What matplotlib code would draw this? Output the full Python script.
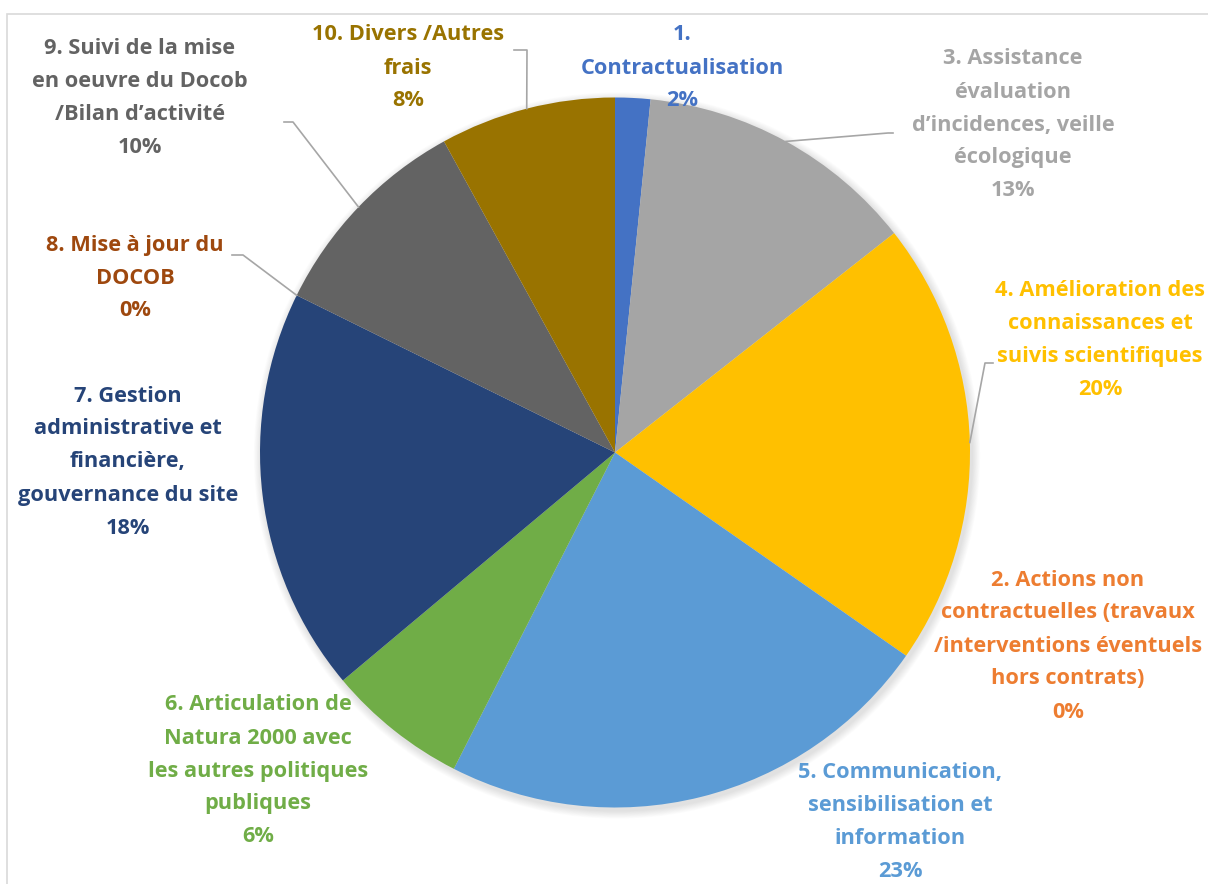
import numpy as np
import matplotlib
matplotlib.use("Agg")
import matplotlib.pyplot as plt
from matplotlib.patches import Rectangle, Circle

# slices in drawing order (clockwise from 12 o'clock)
labels = [
    "1.\nContractualisation",
    "3. Assistance\névaluation\nd\u2019incidences, veille\nécologique",
    "4. Amélioration des\nconnaissances et\nsuivis scientifiques",
    "2. Actions non\ncontractuelles (travaux\n/interventions éventuels\nhors contrats)",
    "5. Communication,\nsensibilisation et\ninformation",
    "6. Articulation de\nNatura 2000 avec\nles autres politiques\npubliques",
    "7. Gestion\nadministrative et\nfinancière,\ngouvernance du site",
    "8. Mise à jour du\nDOCOB",
    "9. Suivi de la mise\nen oeuvre du Docob\n/Bilan d\u2019activité",
    "10. Divers /Autres\nfrais",
]
shares = [1.6, 12.8, 20.3, 0.0, 22.8, 6.4, 18.4, 0.0, 9.7, 8.0]
colors = ["#4472C4", "#A5A5A5", "#FFC000", "#ED7D31", "#5B9BD5",
          "#70AD47", "#264478", "#9E480E", "#636363", "#997300"]

W, H = 1208, 884
cx, cy, r = 615, H - 452.5, 355

# label block centres (pixels, y from top) and leader lines
label_pos = [(682, 68), (1013, 125), (1100, 340), (1068, 646), (900, 822),
             (258, 771), (128, 462), (135, 278), (140, 98), (408, 68)]
leaders = {1: [(893, 133), (888, 133)],
           2: [(993, 363), (985, 363)],
           7: [(232, 255), (243, 255)],
           8: [(284, 122), (293, 122)],
           9: [(514, 50), (527, 50)]}

plt.rcParams["font.family"] = ["Open Sans", "DejaVu Sans"]

fig = plt.figure(figsize=(W / 100, H / 100), dpi=100)
ax = fig.add_axes([0, 0, 1, 1])

# soft drop shadow
for k in range(10):
    ax.add_patch(Circle((cx + 2, cy - 3), r + 1 + k * 0.8, color="black",
                        alpha=0.012, lw=0, zorder=0))

wedges, _ = ax.pie(shares, colors=colors, startangle=90, counterclock=False,
                   center=(cx, cy), radius=r, normalize=True,
                   wedgeprops=dict(linewidth=0))

for i, w in enumerate(wedges):
    x, y = label_pos[i]
    txt = labels[i] + "\n" + f"{round(shares[i])}%"
    ax.text(x, H - y, txt, ha="center", va="center", multialignment="center",
            fontsize=15.7, fontweight="bold", color=colors[i], linespacing=1.75)
    if i in leaders:
        mid = np.deg2rad((w.theta1 + w.theta2) / 2)
        ex, ey = cx + r * np.cos(mid), cy + r * np.sin(mid)
        pts = [(px, H - py) for px, py in leaders[i]] + [(ex, ey)]
        ax.plot([p[0] for p in pts], [p[1] for p in pts], color="#A6A6A6",
                lw=1.2, zorder=3)

ax.set_xlim(0, W)
ax.set_ylim(0, H)
ax.set_aspect("equal")
ax.axis("off")

fig.patches.append(Rectangle((7 / W, -0.1), 1.2, 1.1 - 14 / H, transform=fig.transFigure,
                             fill=False, edgecolor="#D9D9D9", lw=1.2))

fig.savefig("out.png", dpi=100)
